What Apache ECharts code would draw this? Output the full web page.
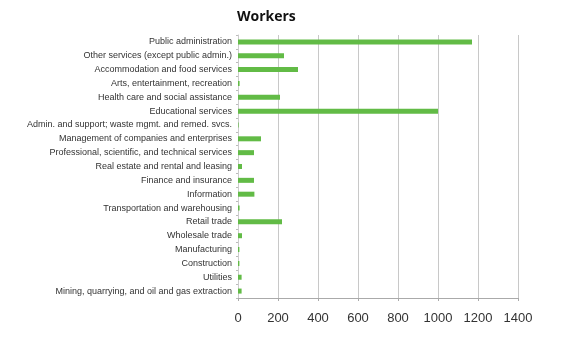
<!DOCTYPE html>
<html>
<head>
<meta charset="utf-8">
<script src="https://cdn.jsdelivr.net/npm/echarts@6/dist/echarts.min.js"></script>
<style>html,body{margin:0;padding:0;background:#fff}#c{width:570px;height:352px}</style>
</head>
<body>
<div id="c"></div>
<script>
const categories = [
  "Public administration",
  "Other services (except public admin.)",
  "Accommodation and food services",
  "Arts, entertainment, recreation",
  "Health care and social assistance",
  "Educational services",
  "Admin. and support; waste mgmt. and remed. svcs.",
  "Management of companies and enterprises",
  "Professional, scientific, and technical services",
  "Real estate and rental and leasing",
  "Finance and insurance",
  "Information",
  "Transportation and warehousing",
  "Retail trade",
  "Wholesale trade",
  "Manufacturing",
  "Construction",
  "Utilities",
  "Mining, quarrying, and oil and gas extraction"
];
const workers = [1170, 230, 300, 8, 210, 1000, 3, 115, 80, 20, 80, 82, 8, 220, 20, 7, 7, 18, 18];
const xTicks = [0, 200, 400, 600, 800, 1000, 1200, 1400];

const chart = echarts.init(document.getElementById('c'), null, {renderer: 'canvas'});
chart.setOption({
  animation: false,
  backgroundColor: '#fff',
  title: {
    text: 'Workers',
    left: 232, top: 5,
    textStyle: {fontFamily: 'Open Sans', fontWeight: 'bold', fontSize: 14, color: '#111'}
  },
  grid: {left: 238, right: 52, top: 35, bottom: 54, containLabel: false},
  xAxis: {
    type: 'value', min: xTicks[0], max: xTicks[xTicks.length - 1], interval: 200,
    axisLine: {show: true, lineStyle: {color: '#aaa', width: 1}},
    axisTick: {show: true, length: 3, lineStyle: {color: '#aaa'}},
    axisLabel: {fontFamily: 'Liberation Sans', fontSize: 13, color: '#333', margin: 14,
      formatter: function (v) { return String(v); }},
    splitLine: {show: true, lineStyle: {color: '#c8c8c8', width: 1}}
  },
  yAxis: {
    type: 'category', data: categories, inverse: true,
    axisLine: {show: true, lineStyle: {color: '#ccc'}},
    axisTick: {show: true, length: 2, lineStyle: {color: '#bbb'}},
    axisLabel: {fontFamily: 'Liberation Sans', fontSize: 9, color: '#333', margin: 6}
  },
  series: [{
    type: 'bar', data: workers, barWidth: 5,
    itemStyle: {color: '#62bb46'}
  }]
});
</script>
</body>
</html>
